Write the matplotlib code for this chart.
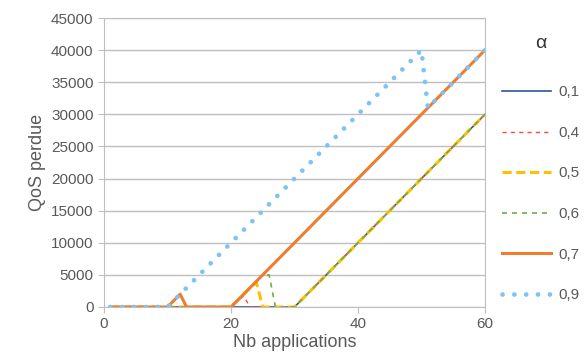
import matplotlib.pyplot as plt

plt.rcParams['font.family'] = ['Liberation Sans', 'DejaVu Sans']

# number of applications
nb_apps = list(range(1, 61))

# QoS perdue for each alpha
qos_01 = [0, 0, 0, 0, 0, 0, 0, 0, 0, 0,
          0, 0, 0, 0, 0, 0, 0, 0, 0, 0,
          0, 0, 0, 0, 0, 0, 0, 0, 0, 0,
          1000, 2000, 3000, 4000, 5000, 6000, 7000, 8000, 9000, 10000,
          11000, 12000, 13000, 14000, 15000, 16000, 17000, 18000, 19000, 20000,
          21000, 22000, 23000, 24000, 25000, 26000, 27000, 28000, 29000, 30000]
qos_04 = [0, 0, 0, 0, 0, 0, 0, 0, 0, 0,
          0, 0, 0, 0, 0, 0, 0, 0, 0, 0,
          1000, 1700, 0, 0, 0, 0, 0, 0, 0, 0,
          1000, 2000, 3000, 4000, 5000, 6000, 7000, 8000, 9000, 10000,
          11000, 12000, 13000, 14000, 15000, 16000, 17000, 18000, 19000, 20000,
          21000, 22000, 23000, 24000, 25000, 26000, 27000, 28000, 29000, 30000]
qos_05 = [0, 0, 0, 0, 0, 0, 0, 0, 0, 0,
          0, 0, 0, 0, 0, 0, 0, 0, 0, 0,
          1000, 2000, 3000, 3800, 0, 0, 0, 0, 0, 0,
          1000, 2000, 3000, 4000, 5000, 6000, 7000, 8000, 9000, 10000,
          11000, 12000, 13000, 14000, 15000, 16000, 17000, 18000, 19000, 20000,
          21000, 22000, 23000, 24000, 25000, 26000, 27000, 28000, 29000, 30000]
qos_06 = [0, 0, 0, 0, 0, 0, 0, 0, 0, 0,
          0, 0, 0, 0, 0, 0, 0, 0, 0, 0,
          1000, 2000, 3000, 4000, 5000, 5000, 0, 0, 0, 0,
          1000, 2000, 3000, 4000, 5000, 6000, 7000, 8000, 9000, 10000,
          11000, 12000, 13000, 14000, 15000, 16000, 17000, 18000, 19000, 20000,
          21000, 22000, 23000, 24000, 25000, 26000, 27000, 28000, 29000, 30000]
qos_07 = [0, 0, 0, 0, 0, 0, 0, 0, 0, 0,
          1000, 2000, 0, 0, 0, 0, 0, 0, 0, 0,
          1000, 2000, 3000, 4000, 5000, 6000, 7000, 8000, 9000, 10000,
          11000, 12000, 13000, 14000, 15000, 16000, 17000, 18000, 19000, 20000,
          21000, 22000, 23000, 24000, 25000, 26000, 27000, 28000, 29000, 30000,
          31000, 32000, 33000, 34000, 35000, 36000, 37000, 38000, 39000, 40000]
qos_09 = [0, 0, 0, 0, 0, 0, 0, 0, 0, 0,
          1000, 2000, 3000, 4000, 5000, 6000, 7000, 8000, 9000, 10000,
          11000, 12000, 13000, 14000, 15000, 16000, 17000, 18000, 19000, 20000,
          21000, 22000, 23000, 24000, 25000, 26000, 27000, 28000, 29000, 30000,
          31000, 32000, 33000, 34000, 35000, 36000, 37000, 38000, 39000, 40000,
          31000, 32000, 33000, 34000, 35000, 36000, 37000, 38000, 39000, 40000]

alpha_labels = ['0,1', '0,4', '0,5', '0,6', '0,7', '0,9']
x_ticks = [0, 20, 40, 60]
y_ticks = [0, 5000, 10000, 15000, 20000, 25000, 30000, 35000, 40000, 45000]

txt = '#595959'
grid = '#BFBFBF'

fig = plt.figure(figsize=(5.84, 3.61), dpi=100)
ax = fig.add_axes([104 / 584, 1 - 307 / 361, (485 - 104) / 584, (307 - 18) / 361])

series = [qos_01, qos_04, qos_05, qos_06, qos_07, qos_09]
styles = [
    dict(color='#2F5597', lw=1.2, ls='-'),
    dict(color='#FF4B33', lw=1.0, ls=(0, (3, 3))),
    dict(color='#FFC000', lw=2.2, ls=(0, (3, 1.5))),
    dict(color='#70AD47', lw=1.2, ls=(0, (3, 3))),
    dict(color='#ED7D31', lw=2.2, ls='-'),
    dict(color='#7CC4F8', lw=3.4, ls=(0, (0.01, 2.5)), dash_capstyle='round'),
]
for ys, lab, st in zip(series, alpha_labels, styles):
    ax.plot(nb_apps, ys, label=lab, **st)

ax.set_xlim(0, 60)
ax.set_ylim(0, 45000)
ax.set_xticks(x_ticks)
ax.set_yticks(y_ticks)
ax.yaxis.grid(True, color=grid, lw=1)
ax.set_axisbelow(True)
for s in ax.spines.values():
    s.set_color(grid)
ax.tick_params(colors=txt, labelsize=11, length=4, color=grid)
ax.set_xlabel('Nb applications', fontsize=13, color=txt, labelpad=2)
ax.set_ylabel('QoS perdue', fontsize=13, color=txt, labelpad=4)

leg = ax.legend(title='α', loc='upper left', bbox_to_anchor=(502 / 584, 1 - 35 / 361),
                bbox_transform=fig.transFigure, frameon=False, fontsize=11,
                title_fontsize=14, handlelength=3.2, labelspacing=1.74,
                handletextpad=0.5, borderpad=0, borderaxespad=0)
leg._legend_box.sep = 24
for t in leg.get_texts():
    t.set_color(txt)
leg.get_title().set_color('#333333')

fig.savefig('out.png', dpi=100)
